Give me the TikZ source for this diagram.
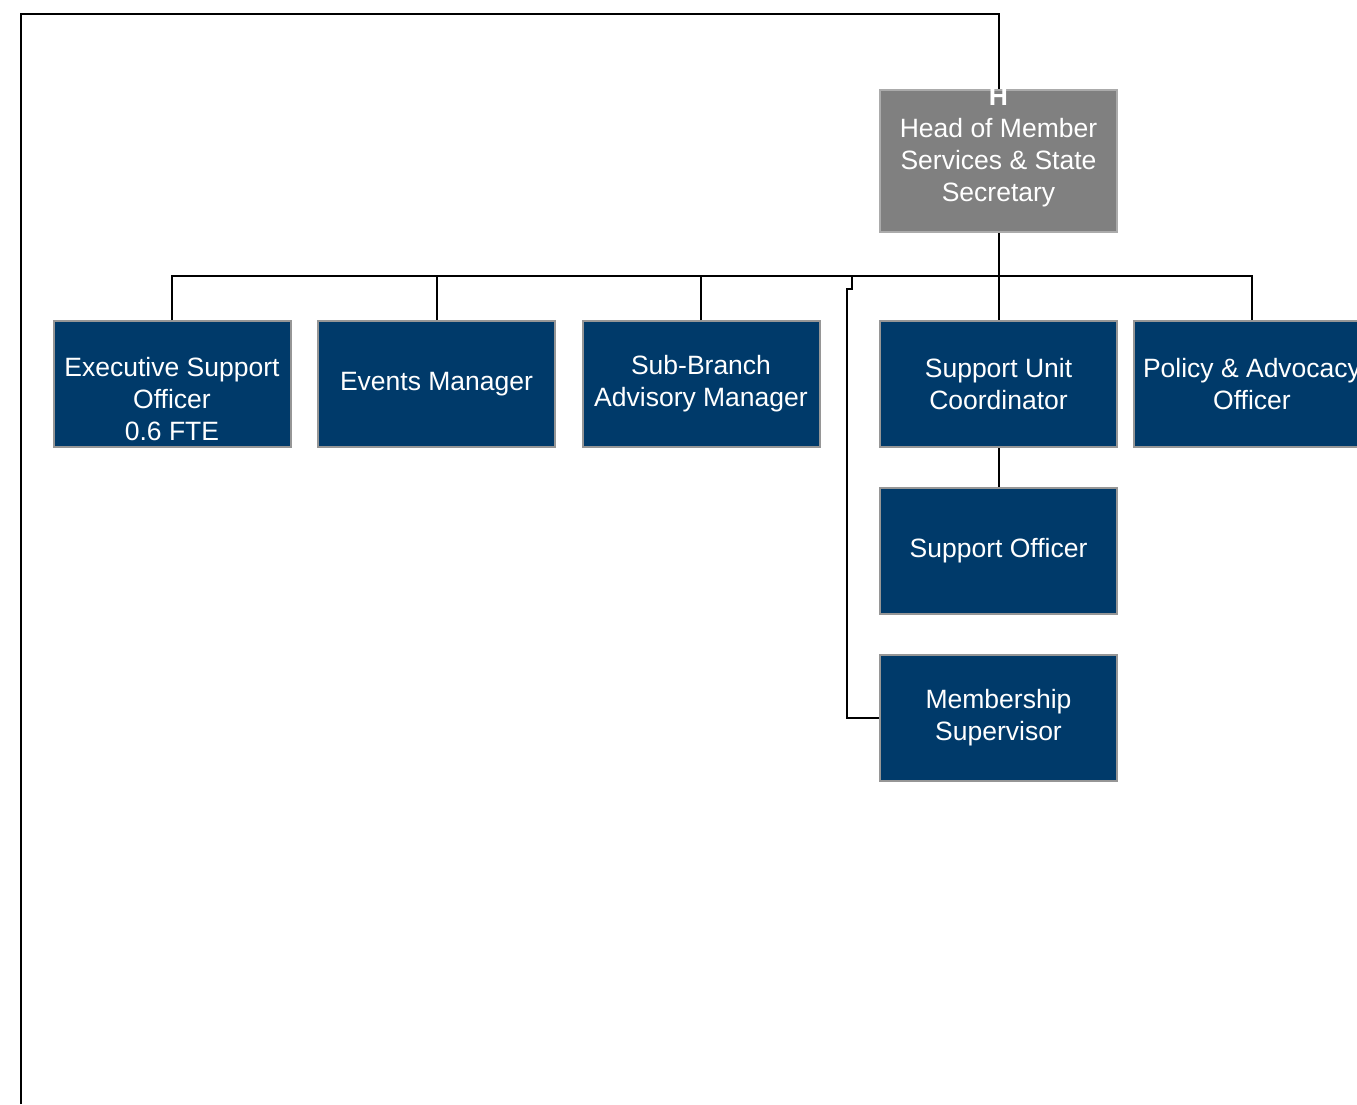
\documentclass[tikz,border=0pt]{standalone}
\usepackage{fontspec}
\setmainfont{Liberation Sans}
\usetikzlibrary{positioning}
\definecolor{postblue}{RGB}{0,58,106}
\definecolor{headgray}{RGB}{128,128,128}
\definecolor{edgegray}{RGB}{150,150,150}

\begin{document}
\begin{tikzpicture}[x=1pt, y=-1pt,
        posttext/.style={text=white, align=center, inner sep=0pt,
            font=\fontsize{26.5}{32}\selectfont},
        post/.style={rectangle, draw=edgegray, line width=2pt, fill=postblue, posttext,
            minimum width=237pt, minimum height=126pt},
        headpost/.style={post, fill=headgray, draw=edgegray!80, minimum height=142pt},
        link/.style={line width=2pt}]
            \useasboundingbox (0,0) rectangle (1357,1104);

            % head box and its text
            \node[headpost] (head) at (998.5,161) {};
            \node[posttext] (headtext) at (998.5,147.5)
                {\textbf{H}\\Head of Member\\Services \& State\\Secretary};

            % first row
            \node[post] (exec) at (172,384) {};
            \node[posttext] (exectext) at (172,399) {Executive Support\\Officer\\0.6 FTE};
            \foreach \name/\x/\txt in {events/436.5/{Events Manager},
                                      branch/701/{Sub-Branch\\Advisory Manager},
                                      unit/998.5/{Support Unit\\Coordinator},
                                      policy/1252/{Policy \& Advocacy\\Officer}} {
                \node[post] (\name) at (\x,384) {\txt};
            }

            % column under the support unit
            \node[post] (officer) at (998.5,551) {Support Officer};
            \node[post] (member) at (998.5,718) {Membership\\Supervisor};

            \coordinate (corner) at (21,1104);
            \draw[link] (corner) |- (head.north |- 0,14) -- (head.north);

            \draw[link] (head.south) -- (unit.north);
            \draw[link] (exec.north) |- (policy.north |- 0,276) -- (policy.north);
            \foreach \name in {events, branch} {
                \draw[link] (\name.north) -- (\name.north |- 0,276);
            }
            \draw[link] (852,276) -- (852,289) -- (847,289) |- (member.west);
            \draw[link] (unit.south) -- (officer.north);
        \end{tikzpicture}
\end{document}
